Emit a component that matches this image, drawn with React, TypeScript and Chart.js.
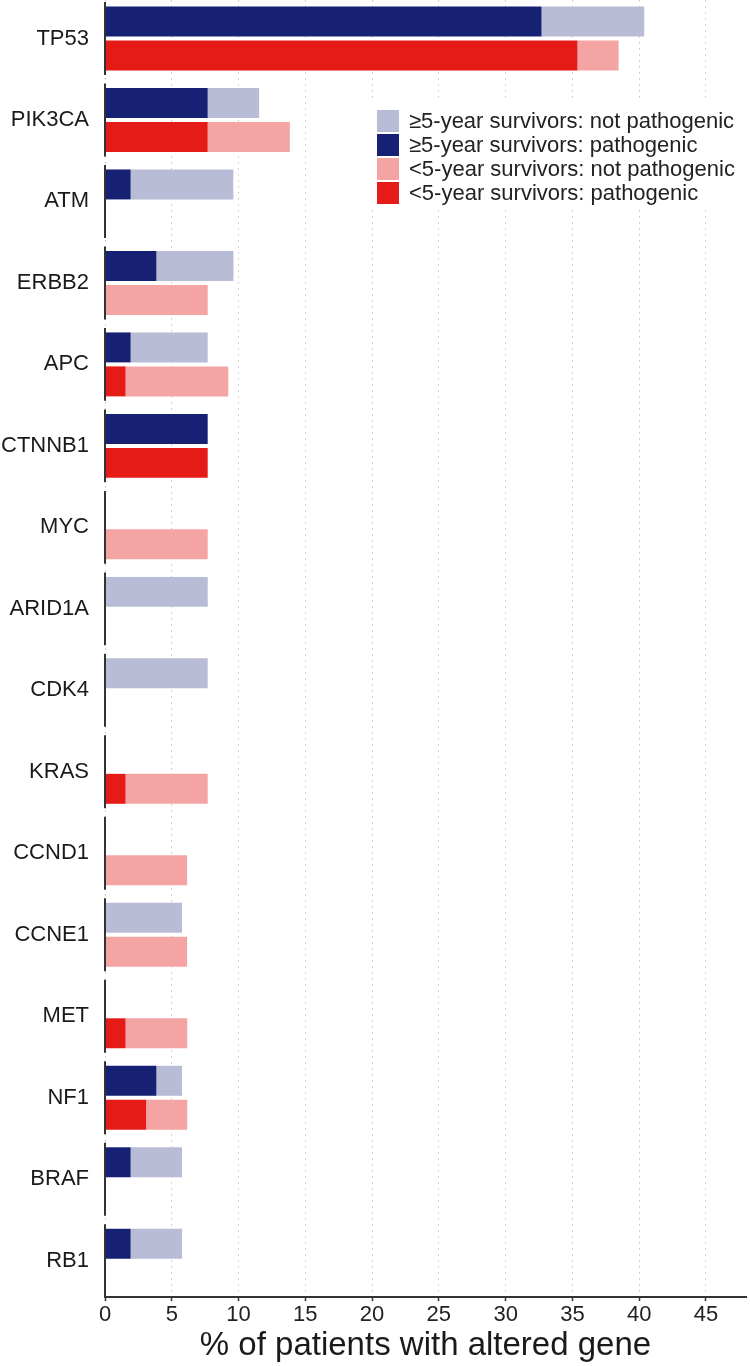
import React, { useEffect, useRef } from "react";
import { Chart, registerables } from "chart.js";

Chart.register(...registerables);

// ---- data ----
const genes = [
  "TP53", "PIK3CA", "ATM", "ERBB2", "APC", "CTNNB1", "MYC", "ARID1A",
  "CDK4", "KRAS", "CCND1", "CCNE1", "MET", "NF1", "BRAF", "RB1",
];
// ≥5-year survivors (%)
const longPathogenic = [32.69, 7.69, 1.92, 3.85, 1.92, 7.69, 0, 0, 0, 0, 0, 0, 0, 3.85, 1.92, 1.92];
const longNotPathogenic = [7.69, 3.85, 7.69, 5.77, 5.77, 0, 0, 7.69, 7.69, 0, 0, 5.77, 0, 1.92, 3.85, 3.85];
// <5-year survivors (%)
const shortPathogenic = [35.38, 7.69, 0, 0, 1.54, 7.69, 0, 0, 0, 1.54, 0, 0, 1.54, 3.08, 0, 0];
const shortNotPathogenic = [3.08, 6.15, 0, 7.69, 7.69, 0, 7.69, 0, 0, 6.15, 6.15, 6.15, 4.62, 3.08, 0, 0];

const xTicks = [0, 5, 10, 15, 20, 25, 30, 35, 40, 45];
const xAxisTitle = "% of patients with altered gene";

const seriesLabels = [
  "≥5-year survivors: pathogenic",
  "≥5-year survivors: not pathogenic",
  "<5-year survivors: pathogenic",
  "<5-year survivors: not pathogenic",
];
const seriesColors = ["#162174", "#B8BCD6", "#E41B16", "#F4A4A2"];
// legend order (indexes into datasets)
const legendOrder = [1, 0, 3, 2];

const FONT = '"Liberation Sans", Arial, Helvetica, sans-serif';

const toPoints = (arr: number[]) => arr.map((v, i) => ({ x: v, y: i }));

const panelAxisPlugin = {
  id: "panelAxis",
  afterDatasetsDraw(chart: any) {
    const ys = chart.scales.y;
    const x = chart.chartArea.left;
    const ctx = chart.ctx;
    ctx.save();
    ctx.strokeStyle = "#333333";
    ctx.lineWidth = 2;
    genes.forEach((_, i) => {
      const a = ys.getPixelForValue(i - 0.4476);
      const b = ys.getPixelForValue(i + 0.4476);
      ctx.beginPath();
      ctx.moveTo(x, Math.min(a, b));
      ctx.lineTo(x, Math.max(a, b));
      ctx.stroke();
    });
    ctx.restore();
  },
};

const legendPlugin = {
  id: "insetLegend",
  afterDraw(chart: any) {
    const ctx = chart.ctx;
    ctx.save();
    ctx.fillStyle = "#ffffff";
    ctx.fillRect(368, 102, 378, 108);
    ctx.font = `22px ${FONT}`;
    ctx.textBaseline = "middle";
    ctx.textAlign = "left";
    legendOrder.forEach((dsIndex, row) => {
      const ds = chart.data.datasets[dsIndex];
      const y = 110 + row * 24;
      ctx.fillStyle = ds.backgroundColor;
      ctx.fillRect(377, y, 22, 22);
      ctx.fillStyle = "#222222";
      ctx.fillText(ds.label, 409, y + 12);
    });
    ctx.restore();
  },
};

export default function App() {
  const ref = useRef<HTMLCanvasElement>(null);

  useEffect(() => {
    if (!ref.current) return;
    Chart.defaults.font.family = FONT;
    const chart = new Chart(ref.current, {
      type: "bar",
      data: {
        datasets: [
          { label: seriesLabels[0], data: toPoints(longPathogenic), backgroundColor: seriesColors[0], stack: "long" },
          { label: seriesLabels[1], data: toPoints(longNotPathogenic), backgroundColor: seriesColors[1], stack: "long" },
          { label: seriesLabels[2], data: toPoints(shortPathogenic), backgroundColor: seriesColors[2], stack: "short" },
          { label: seriesLabels[3], data: toPoints(shortNotPathogenic), backgroundColor: seriesColors[3], stack: "short" },
        ] as any,
      },
      options: {
        indexAxis: "y",
        responsive: false,
        animation: false,
        layout: { autoPadding: false, padding: { left: 0, right: 4, top: 0, bottom: 0 } },
        datasets: {
          bar: { categoryPercentage: 0.8338, barPercentage: 0.8824, borderWidth: 0 },
        } as any,
        plugins: {
          legend: { display: false },
          tooltip: { enabled: false },
        },
        scales: {
          x: {
            type: "linear",
            min: 0,
            max: 48,
            stacked: true,
            afterBuildTicks: (scale: any) => {
              scale.ticks = xTicks.map((v) => ({ value: v }));
            },
            afterFit: (scale: any) => {
              scale.height = 69;
              scale.paddingLeft = 0;
              scale.paddingRight = 0;
            },
            grid: {
              display: true,
              drawOnChartArea: true,
              drawTicks: true,
              tickLength: 4,
              color: "#c4c4c4",
              lineWidth: 1,
              tickColor: "#333333",
              tickWidth: 1.5,
            },
            border: { display: true, color: "#333333", width: 2, dash: [1.5, 4.5] },
            ticks: {
              font: { size: 22 },
              color: "#222222",
              padding: 1,
              autoSkip: false,
              maxRotation: 0,
            },
            title: {
              display: true,
              text: xAxisTitle,
              font: { size: 33 },
              color: "#1a1a1a",
              padding: { top: 0, bottom: 0 },
            },
          },
          y: {
            type: "linear",
            reverse: true,
            offset: false,
            min: -0.472,
            max: 15.445,
            stacked: true,
            afterBuildTicks: (scale: any) => {
              scale.ticks = genes.map((_, i) => ({ value: i }));
            },
            afterFit: (scale: any) => {
              scale.width = 105;
              scale.paddingTop = 0;
              scale.paddingBottom = 0;
            },
            grid: { display: false, drawTicks: false },
            border: { display: false },
            ticks: {
              font: { size: 22 },
              color: "#1a1a1a",
              padding: 16,
              autoSkip: false,
              callback: (v: any) => genes[Number(v)] ?? "",
            },
          },
        },
      } as any,
      plugins: [panelAxisPlugin, legendPlugin],
    });
    return () => chart.destroy();
  }, []);

  return (
    <div style={{ position: "absolute", left: 0, top: 0, width: 750, height: 1366, background: "#ffffff" }}>
      <canvas ref={ref} width={750} height={1366} style={{ display: "block", width: 750, height: 1366 }} />
    </div>
  );
}
